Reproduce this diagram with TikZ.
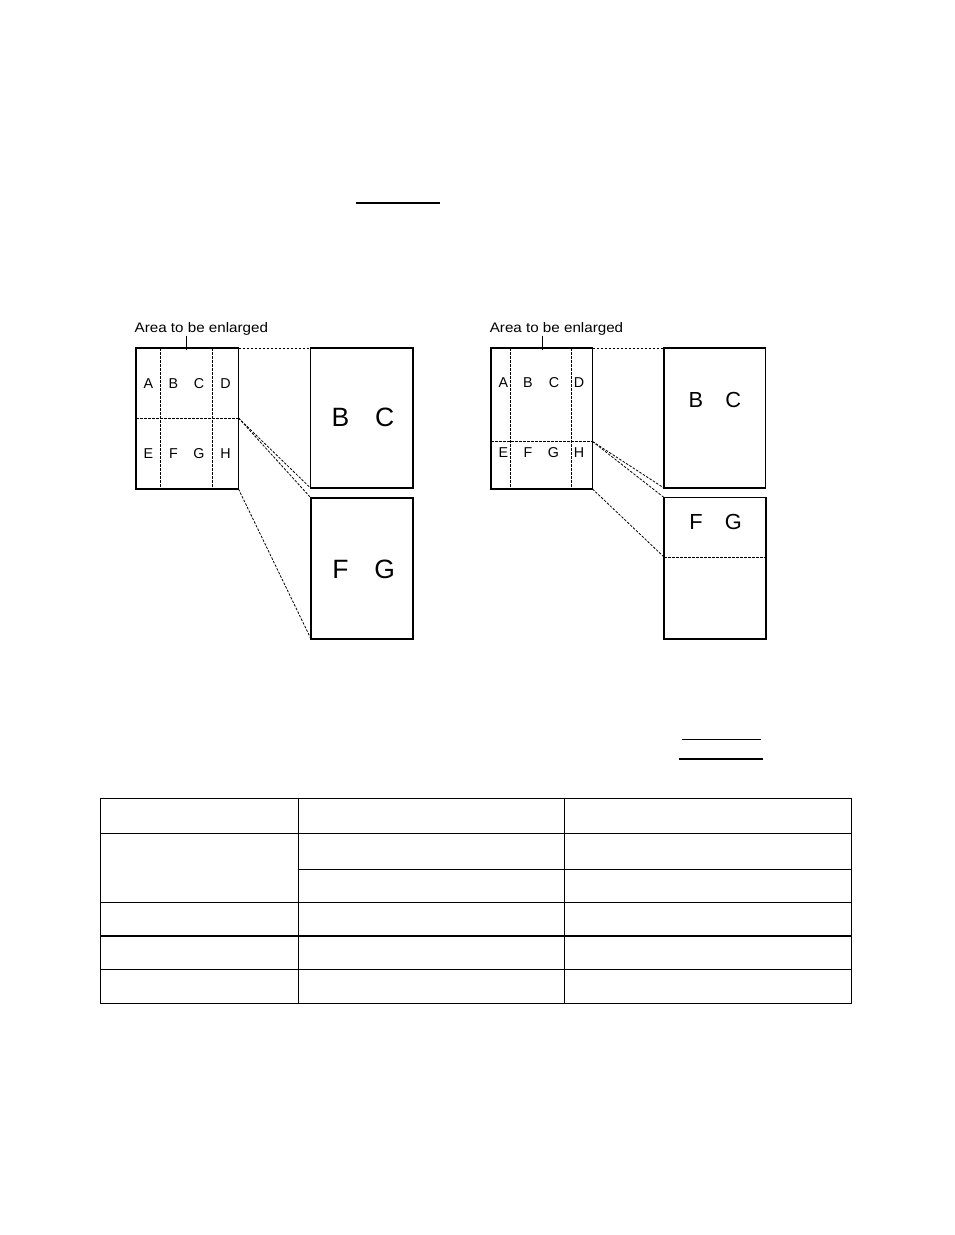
\documentclass[tikz,border=0pt]{standalone}
\usepackage{fontspec}
\setmainfont{Liberation Sans}
\begin{document}
\begin{tikzpicture}[x=1pt,y=-1pt,
  pagebox/.style={draw, line width=1.3pt, rectangle, inner sep=0pt, outer sep=0pt, anchor=north west},
  divline/.style={line width=0.8pt, dash pattern=on 2.5pt off 1.5pt},
  linkline/.style={line width=0.8pt, dash pattern=on 2.5pt off 1.5pt},
  smallletter/.style={inner sep=0pt, font=\fontsize{14.3}{14.3}\selectfont},
  bigletterL/.style={inner sep=0pt, font=\fontsize{26.5}{26.5}\selectfont},
  bigletterR/.style={inner sep=0pt, font=\fontsize{21.8}{21.8}\selectfont},
  arealabel/.style={inner sep=0pt, anchor=base, font=\fontsize{13.8}{13.8}\selectfont},
  leader/.style={line width=0.9pt},
  rule/.style={line width=1.3pt},
  tabline/.style={line width=1.3pt}]
\useasboundingbox[fill=white] (0,0) rectangle (954,1235);

% ---------- underline rules ----------
\coordinate (u1a) at (356,203); \coordinate (u1b) at (440,203);
\draw[rule] (u1a) -- (u1b);
\coordinate (u2a) at (682,739.3); \coordinate (u2b) at (761,739.3);
\draw[rule] (u2a) -- (u2b);
\coordinate (u3a) at (679,759); \coordinate (u3b) at (762.7,759);
\draw[rule] (u3a) -- (u3b);

% ---------- left figure ----------
\node[pagebox, minimum width=102.5pt, minimum height=141pt] (smallL) at (136,348) {};
\draw[divline] (160.5,348) -- (160.5,489);
\draw[divline] (212,348) -- (212,489);
\draw[divline] (136,418) -- (238.5,418);
\coordinate (cutL) at (238.5,418);
\foreach \t/\x/\y in {A/148.5/384,B/173.5/384,C/199/384,D/225.5/384,
                      E/148.5/454,F/173.5/454,G/199/454,H/225.5/454}
  \node[smallletter] (L\t) at (\x,\y) {\t};
\node[arealabel, xscale=1.1] (labL) at (201.4,332.7) {Area to be enlarged};
\coordinate (leadL) at (186.5,335.5);
\draw[leader] (leadL) -- (leadL |- 0,350);

\node[pagebox, minimum width=102.5pt, minimum height=140pt] (bigTL) at (310.5,348) {};
\node[pagebox, minimum width=102pt, minimum height=141pt] (bigBL) at (311,498) {};
\node[bigletterL] (BL) at (340.5,417) {B};
\node[bigletterL] (CL) at (384.7,417) {C};
\node[bigletterL] (FL) at (340.5,569) {F};
\node[bigletterL] (GL) at (384.7,569) {G};

\draw[linkline] (smallL.north east) -- (bigTL.north west);
\draw[linkline] (cutL) -- (bigTL.south west);
\draw[linkline] (cutL) -- (bigBL.north west);
\draw[linkline] (smallL.south east) -- (bigBL.south west);

% ---------- right figure ----------
\node[pagebox, minimum width=101.5pt, minimum height=141pt] (smallR) at (491,348) {};
\draw[divline] (510.5,348) -- (510.5,489);
\draw[divline] (571,348) -- (571,489);
\draw[divline] (491,441.5) -- (592.5,441.5);
\coordinate (cutR) at (592.5,441.5);
\foreach \t/\x/\y in {A/503.5/383,B/528/383,C/554/383,D/579/383,
                      E/503.5/453,F/528/453,G/553.5/453,H/579/453}
  \node[smallletter] (R\t) at (\x,\y) {\t};
\node[arealabel, xscale=1.1] (labR) at (556.5,332.7) {Area to be enlarged};
\coordinate (leadR) at (542,335.5);
\draw[leader] (leadR) -- (leadR |- 0,350);

\node[pagebox, minimum width=101.5pt, minimum height=140pt] (bigTR) at (664,348) {};
\node[pagebox, minimum width=102pt, minimum height=141.5pt] (bigBR) at (664,497.5) {};
\coordinate (fgcut) at (664,557);
\draw[divline] (fgcut) -- (bigBR.east |- fgcut);
\node[bigletterR] (BR) at (696,399.5) {B};
\node[bigletterR] (CR) at (733.3,399.5) {C};
\node[bigletterR] (FR) at (696,522) {F};
\node[bigletterR] (GR) at (733.3,522) {G};

\draw[linkline] (smallR.north east) -- (bigTR.north west);
\draw[linkline] (cutR) -- (bigTR.south west);
\draw[linkline] (cutR) -- (bigBR.north west);
\draw[linkline] (smallR.south east) -- (fgcut);

% ---------- table ----------
\def\xa{100.5}\def\xb{298.3}\def\xc{564.3}\def\xd{851.3}
\draw[tabline] (\xa,798.3) rectangle (\xd,1003.3);
\draw[tabline] (\xb,798.3) -- (\xb,1003.3);
\draw[tabline] (\xc,798.3) -- (\xc,1003.3);
\draw[tabline] (\xa,833.3) -- (\xd,833.3);
\draw[tabline] (\xb,869.3) -- (\xd,869.3);
\draw[tabline] (\xa,902.7) -- (\xd,902.7);
\draw[tabline] (\xa,936) -- (\xd,936);
\draw[tabline] (\xa,969.3) -- (\xd,969.3);
\end{tikzpicture}
\end{document}
